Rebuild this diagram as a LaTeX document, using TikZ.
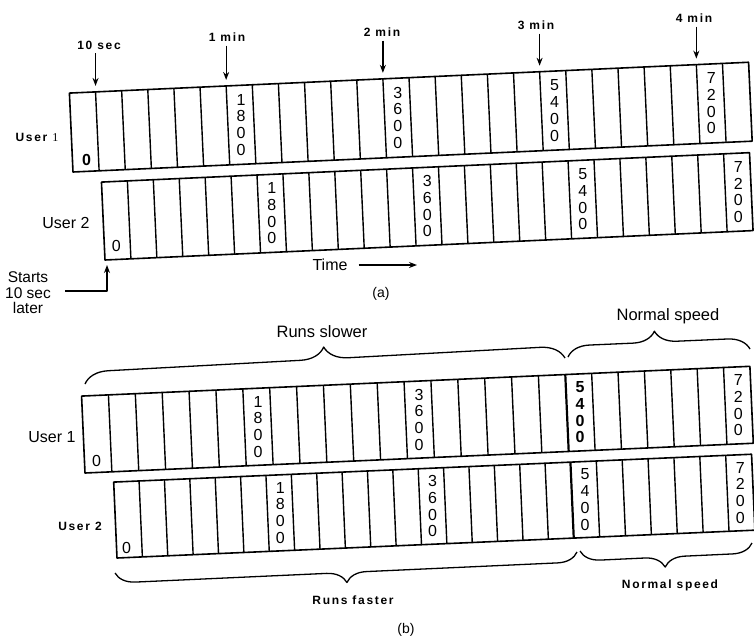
\documentclass[tikz,border=0pt]{standalone}
\usepackage{fontspec}
\setmainfont{Liberation Sans}
\newfontfamily\spcfam[LetterSpace=14]{Liberation Sans}
\newfontfamily\serfam{Liberation Serif}
\usetikzlibrary{arrows.meta,calc,decorations.pathreplacing}
\tikzset{
  strip/.style={line width=1.6pt},
  cell/.style={line width=1.4pt},
  dig/.style={align=center, font=\fontsize{16}{16.7}\selectfont, inner sep=0pt},
  digb/.style={dig, font=\bfseries\fontsize{16}{16.7}\selectfont},
  zero/.style={font=\fontsize{16}{16}\selectfont, inner sep=0pt},
  lbl/.style={font=\spcfam\bfseries\fontsize{12}{14}\selectfont, inner sep=1pt},
  big/.style={font=\fontsize{16}{17}\selectfont, inner sep=1pt},
  arr/.style={line width=1.3pt, -{Stealth[length=8pt,width=6pt]}},
  brc/.style 2 args={decorate, decoration={brace, amplitude=#1, aspect=#2}, line width=1.3pt}
}
\begin{document}
\begin{tikzpicture}[x=1pt,y=-1pt,line join=round]
\useasboundingbox (0,0) rectangle (754,640);

% ---------------- (a) User 1 ----------------
\begin{scope}[shift={(73,172)},rotate=2.6]
  \draw[strip] (0,0) -- (679.9,0) -- (679.9,-79) -- (0,-79) -- cycle;
  \foreach \i in {1,...,25} \draw[cell] (\i*26.15,0) -- (\i*26.15,-79);
  \foreach \i/\n in {1/a1t1,6/a1t6,12/a1t12,18/a1t18,24/a1t24}
    \coordinate (\n) at (\i*26.15,-79);
  \node[zero,font=\bfseries\fontsize{16}{16}\selectfont] (a1z) at (14,-11) {0};
  \node[dig] (a1d1) at (6.5*26.15,-39.5) {1\\8\\0\\0};
  \node[dig] (a1d2) at (12.5*26.15,-39.5) {3\\6\\0\\0};
  \node[dig] (a1d3) at (18.5*26.15,-39.5) {5\\4\\0\\0};
  \node[dig] (a1d4) at (24.5*26.15,-39.5) {7\\2\\0\\0};
\end{scope}

% ---------------- (a) User 2 ----------------
\begin{scope}[shift={(105,260)},rotate=2.6]
  \draw[strip] (0,0) -- (648.75,0) -- (648.75,-78) -- (0,-78) -- cycle;
  \foreach \i in {1,...,24} \draw[cell] (\i*25.95,0) -- (\i*25.95,-78);
  \coordinate (a2bl) at (0,0);
  \node[zero] (a2z) at (12,-13) {0};
  \node[dig] (a2d1) at (6.5*25.95,-39) {1\\8\\0\\0};
  \node[dig] (a2d2) at (12.5*25.95,-39) {3\\6\\0\\0};
  \node[dig] (a2d3) at (18.5*25.95,-39) {5\\4\\0\\0};
  \node[dig] (a2d4) at (24.5*25.95,-39) {7\\2\\0\\0};
\end{scope}

% time labels (a)
\node[lbl] (l10) at (99,45) {10 sec};
\node[lbl] (l1)  at (227,37) {1 min};
\node[lbl] (l2)  at (382,32) {2 min};
\node[lbl] (l3)  at (536,25) {3 min};
\node[lbl] (l4)  at (694,18) {4 min};
\draw[arr] ($(l10.south -| a1t1)+(0,3)$) -- ($(a1t1)+(0,-6)$);
\draw[arr] ($(l1.south -| a1t6)+(0,3)$) -- ($(a1t6)+(0,-6)$);
\draw[arr] ($(l2.south -| a1t12)+(0,3)$) -- ($(a1t12)+(0,-6)$);
\draw[arr] ($(l3.south -| a1t18)+(0,3)$) -- ($(a1t18)+(0,-6)$);
\draw[arr] ($(l4.south -| a1t24)+(0,3)$) -- ($(a1t24)+(0,-6)$);

\node[lbl] (u1a) at (37,137) {User {\serfam\mdseries 1}};
\node[big] (u2a) at (66,223) {User 2};

\node[big] (time) at (330,265) {Time};
\coordinate (tend) at (417,265);
\draw[arr] ($(time.east)+(10,0)$) -- (tend);
\node[big,font=\fontsize{14}{16}\selectfont] (capa) at (381,294) {(a)};

\node[big,align=center,font=\fontsize{15.5}{15.5}\selectfont] (starts) at (28,293) {Starts\\10 sec\\later};
\coordinate (sa) at (65,291);
\draw[arr] (sa) -| ($(a2bl)+(2,5)$);

% ---------------- (b) User 1 ----------------
\begin{scope}[shift={(85,473)},rotate=2.55]
  \draw[strip] (0,0) -- (669,0) -- (669,-77) -- (0,-77) -- cycle;
  \foreach \i in {1,...,17} \draw[cell] (\i*26.9,0) -- (\i*26.9,-77);
  \draw[strip,line width=2.2pt] (484.2,0) -- (484.2,-77);
  \foreach \i in {1,...,6} \draw[cell] (484.2+\i*26.4,0) -- (484.2+\i*26.4,-77);
  \node[zero] (b1z) at (12,-11) {0};
  \node[dig] (b1d1) at (6.5*26.9,-38.5) {1\\8\\0\\0};
  \node[dig] (b1d2) at (12.5*26.9,-38.5) {3\\6\\0\\0};
  \node[digb] (b1d3) at (497.4,-38.5) {5\\4\\0\\0};
  \node[dig] (b1d4) at (655.8,-38.5) {7\\2\\0\\0};
\end{scope}

% ---------------- (b) User 2 ----------------
\begin{scope}[shift={(117,558)},rotate=2.5]
  \draw[strip] (0,0) -- (638.5,0) -- (638.5,-76) -- (0,-76) -- cycle;
  \foreach \i in {1,...,17} \draw[cell] (\i*25.4,0) -- (\i*25.4,-76);
  \draw[strip,line width=2.2pt] (457.2,0) -- (457.2,-76);
  \foreach \i in {1,...,6} \draw[cell] (457.2+\i*25.9,0) -- (457.2+\i*25.9,-76);
  \node[zero] (b2z) at (10,-10) {0};
  \node[dig] (b2d1) at (6.5*25.4,-38) {1\\8\\0\\0};
  \node[dig] (b2d2) at (12.5*25.4,-38) {3\\6\\0\\0};
  \node[dig] (b2d3) at (470.15,-38) {5\\4\\0\\0};
  \node[dig] (b2d4) at (625.55,-38) {7\\2\\0\\0};
\end{scope}

\node[big] (u1b) at (52,437) {User 1};
\node[lbl] (u2b) at (80,526) {User 2};

% braces (b)
\coordinate (bs1) at (85,384);  \coordinate (bs2) at (565,358);
\coordinate (bn1) at (568,357); \coordinate (bn2) at (750,349);
\coordinate (bf1) at (577,552); \coordinate (bf2) at (115,573);
\coordinate (bm1) at (752,543); \coordinate (bm2) at (580,551);
\draw[brc={24}{0.5}] (bs1) -- (bs2);
\draw[brc={22}{0.48}] (bn1) -- (bn2);
\draw[brc={20}{0.5}] (bf1) -- (bf2);
\draw[brc={20}{0.51}] (bm1) -- (bm2);

\node[big,font=\fontsize{16.5}{18}\selectfont] (slow) at (322,332) {Runs slower};
\node[big,font=\fontsize{16.5}{18}\selectfont] (norm1) at (668,316) {Normal speed};
\node[lbl] (fast) at (353,600) {Runs faster};
\node[lbl] (norm2) at (670,585) {Normal speed};
\node[big,font=\fontsize{14}{16}\selectfont] (capb) at (406,630) {(b)};
\end{tikzpicture}
\end{document}
